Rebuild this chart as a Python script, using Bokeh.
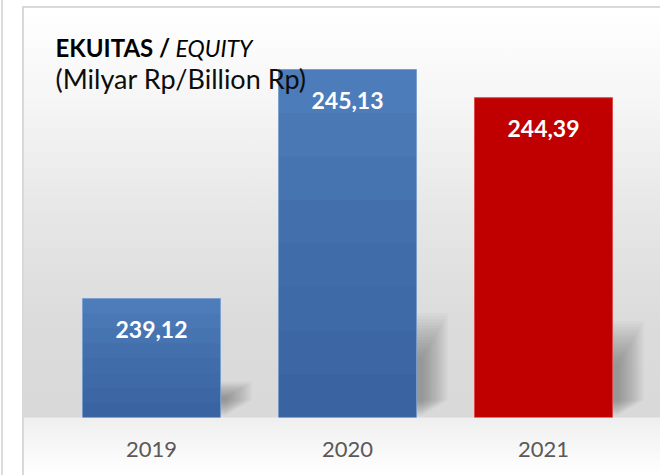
from bokeh.plotting import figure
from bokeh.models import ColumnDataSource, FactorRange, Range1d, Label
from bokeh.transform import dodge
from bokeh.core.properties import value
from bokeh.embed import file_html
from bokeh.resources import INLINE

# ---- data ----
years = ["2019", "2020", "2021"]
equity = [239.12, 245.13, 244.39]
value_labels = ["239,12", "245,13", "244,39"]
bar_colors = ["#4f81bd", "#4f81bd", "#c00000"]
edge_colors = ["#7ea2d1", "#7ea2d1", "#d94a4a"]
shade_alpha = [0.062, 0.062, 0.0]

BASE = 236.0
TOP = 246.73
BAR_W = 0.704

src = ColumnDataSource(dict(year=years, v=equity, label=value_labels,
                            color=bar_colors, edge=edge_colors))

p = figure(width=660, height=475,
           x_range=FactorRange(factors=years, range_padding=0.097,
                               range_padding_units="absolute"),
           y_range=Range1d(BASE, TOP),
           y_axis_location=None, toolbar_location=None, output_backend="svg",
           min_border_left=34, min_border_right=0, min_border_top=8,
           min_border_bottom=58)

p.background_fill_color = None
p.border_fill_color = None
p.outline_line_color = None
p.grid.visible = False

p.styles = {
    "background":
        "linear-gradient(#dcdcdc, #dcdcdc) 1px 0px / 2px 100% no-repeat, "
        "linear-gradient(#d9d9d9, #d9d9d9) 22px 6px / 100% 2px no-repeat, "
        "linear-gradient(#d9d9d9, #d9d9d9) 22px 6px / 2px 100% no-repeat, "
        "linear-gradient(to bottom, #ffffff 0px, #f6f6f6 90px, #e6e6e6 210px, "
        "#dbdbdb 320px, #d9d9d9 409px, #efefef 410px, #ffffff 467px) "
        "24px 8px / 100% 100% no-repeat, #ffffff"
}

# ---- soft curled shadows to the lower right of each bar ----
n_layers = 16
for i in range(n_layers):
    t = i / (n_layers - 1)
    ext = 0.16 - 0.13 * t
    frac = 0.30 - 0.13 * t
    lift = 0.45 - 0.4 * t
    s = ColumnDataSource(dict(year=years,
                              top=[BASE + frac * (v - BASE) for v in equity],
                              bottom=[BASE + min(lift, 0.5 * frac * (v - BASE)) for v in equity]))
    p.vbar(x=dodge("year", ext, range=p.x_range), top="top", bottom="bottom",
           width=BAR_W, source=s, fill_color="#303030", fill_alpha=0.032,
           line_color=None)

# ---- bars ----
p.vbar(x="year", top="v", bottom=BASE, width=BAR_W, source=src,
       fill_color="color", line_color="edge", line_width=1)

# vertical gradient on blue bars (darker at the bottom)
for k in range(8):
    frac = 1 - k / 8
    g = ColumnDataSource(dict(year=years,
                              top=[BASE + frac * (v - BASE) for v in equity],
                              a=shade_alpha))
    p.vbar(x="year", top="top", bottom=BASE, width=BAR_W - 0.004, source=g,
           fill_color="#20477c", fill_alpha="a", line_color=None)

# ---- value labels ----
p.text(x="year", y="v", text="label", source=src, text_color="white",
       text_font=value("Lato"), text_font_style="bold", text_font_size="23px",
       text_align="center", text_baseline="middle", y_offset=31)

# ---- title ----
p.add_layout(Label(x=21, y=370, x_units="screen", y_units="screen",
                   text="EKUITAS /", text_font="Lato", text_font_style="bold",
                   text_font_size="24px", text_color="#000000",
                   text_baseline="alphabetic"))
p.add_layout(Label(x=141, y=370, x_units="screen", y_units="screen",
                   text="EQUITY", text_font="Lato", text_font_style="italic",
                   text_font_size="23px", text_color="#000000",
                   text_baseline="alphabetic"))
p.add_layout(Label(x=21, y=339, x_units="screen", y_units="screen",
                   text="(Milyar Rp/Billion Rp)", text_font="Lato",
                   text_font_size="27px", text_color="#0d0d0d",
                   text_baseline="alphabetic"))

# ---- axis ----
ax = p.xaxis[0]
ax.axis_line_color = None
ax.major_tick_line_color = None
ax.minor_tick_line_color = None
ax.major_label_text_font = "Lato"
ax.major_label_text_font_size = "22px"
ax.major_label_text_color = "#595959"
ax.major_label_standoff = 18

open("out.html", "w").write(file_html(p, INLINE))
